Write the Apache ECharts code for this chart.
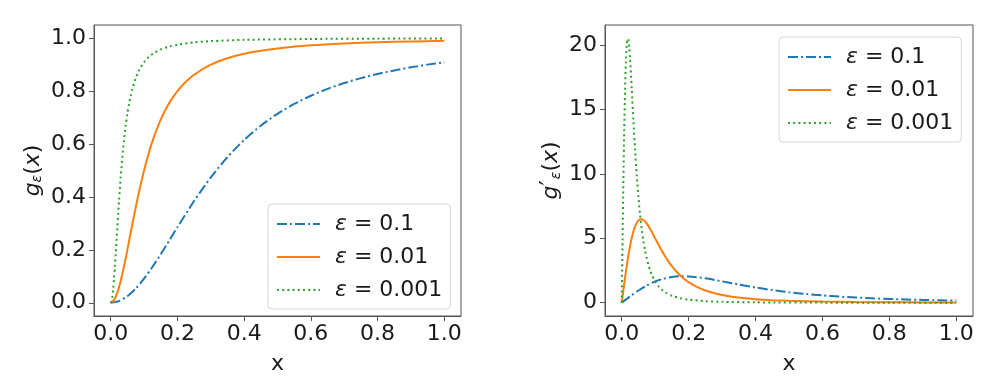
<!DOCTYPE html>
<html>
<head>
<meta charset="utf-8">
<script src="https://cdn.jsdelivr.net/npm/echarts@6/dist/echarts.min.js"></script>
<style>
html,body{margin:0;padding:0;background:#fff;}
#chart{width:1002px;height:380px;}
</style>
</head>
<body>
<div id="chart"></div>
<script>
// ---- data ----
const seriesNames = ['ε = 0.1', 'ε = 0.01', 'ε = 0.001'];
const xTicks = [0, 0.2, 0.4, 0.6, 0.8, 1.0];
const yTicksLeft = [0, 0.2, 0.4, 0.6, 0.8, 1.0];
const yTicksRight = [0, 5, 10, 15, 20];

// eps = 0.1
const xA = [0, .025, .05, .075, .1, .125, .15, .175, .2, .25, .3, .35, .4, .45, .5, .55, .6, .65, .7, .75, .8, .85, .9, .95, 1];
const gA = [0, .0062, .0244, .0533, .0909, .1351, .1837, .2344, .2857, .3846, .4737, .5506, .6154, .6694, .7143, .7516, .7826, .8086, .8305, .8491, .8649, .8784, .8901, .9002, .9091];
const dA = [0, .494, .952, 1.345, 1.653, 1.870, 1.999, 2.051, 2.041, 1.893, 1.662, 1.414, 1.183, .984, .816, .679, .567, .476, .402, .342, .292, .251, .217, .189, .165];

// eps = 0.01
const xB = [0, .01, .02, .03, .04, .05, .06, .07, .08, .09, .1, .11, .12, .13, .14, .15, .16, .17, .18, .19, .2, .22, .25, .3, .35, .4, .45, .5, .6, .7, .8, .9, 1];
const gB = [0, .0099, .0385, .0826, .1379, .2, .2647, .3289, .3902, .4475, .5, .5475, .5902, .6283, .6622, .6923, .7191, .7429, .7642, .7831, .8, .8288, .8621, .9, .9245, .9412, .9529, .9615, .973, .98, .9846, .9878, .9901];
const dB = [0, 1.961, 3.698, 5.050, 5.945, 6.4, 6.488, 6.306, 5.949, 5.494, 5.0, 4.504, 4.031, 3.593, 3.196, 2.840, 2.525, 2.247, 2.002, 1.788, 1.6, 1.290, .951, .6, .399, .277, .199, .148, .088, .056, .038, .027, .020];

// eps = 0.001
const xC = [0, .0025, .005, .0075, .01, .0125, .015, .0175, .02, .0225, .025, .03, .035, .04, .045, .05, .055, .06, .065, .07, .075, .08, .085, .09, .1, .11, .12, .13, .15, .175, .2, .25, .3, .4, .6, .8, 1];
const gC = [0, .0062, .0244, .0533, .0909, .1351, .1837, .2344, .2857, .3361, .3846, .4737, .5506, .6154, .6694, .7143, .7516, .7826, .8086, .8305, .8491, .8649, .8784, .8901, .9091, .9237, .9351, .9441, .9574, .9684, .9756, .9843, .989, .9938, .9972, .9984, .999];
const dC = [0, 4.94, 9.52, 13.45, 16.53, 18.70, 19.99, 20.51, 20.41, 19.83, 18.93, 16.62, 14.14, 11.83, 9.84, 8.16, 6.79, 5.67, 4.76, 4.02, 3.42, 2.92, 2.51, 2.17, 1.65, 1.28, 1.01, .811, .543, .350, .238, .124, .0725, .0309, .0092, .0039, .002];

// ---- styling ----
const FONT = 'DejaVu Sans';
const TXT = '#1a1a1a';
const SPINE = '#555';
const colors = ['#1f77b4', '#ff7f0e', '#2ca02c'];
const dashes = [[10, 3, 2, 3], 'solid', [2, 3.2]];

function zip(xs, ys) { return xs.map((x, i) => [x, ys[i]]); }

function mkX(gridIndex) {
  return {
    type: 'value', gridIndex, min: -0.05, max: 1.05,
    name: 'x', nameLocation: 'middle', nameGap: 37,
    nameTextStyle: { fontFamily: FONT, fontSize: 22, color: TXT },
    axisLine: { show: true, onZero: false, lineStyle: { color: SPINE, width: 1 } },
    axisTick: { show: true, inside: false, length: 5, customValues: xTicks, lineStyle: { color: SPINE } },
    axisLabel: { customValues: xTicks, formatter: v => v.toFixed(1), fontFamily: FONT, fontSize: 22, color: TXT, margin: 7 },
    splitLine: { show: false }
  };
}
function mkY(gridIndex, min, max, ticks, fmt, nameRich, nameGap) {
  return {
    type: 'value', gridIndex, min, max,
    name: nameRich, nameLocation: 'middle', nameGap, nameRotate: 90,
    nameTextStyle: {
      fontFamily: FONT, fontSize: 22, color: TXT,
      rich: {
        i: { fontFamily: FONT, fontStyle: 'italic', fontSize: 22, color: TXT },
        s: { fontFamily: FONT, fontStyle: 'italic', fontSize: 14, color: TXT, verticalAlign: 'bottom', lineHeight: 12 },
        n: { fontFamily: FONT, fontSize: 22, color: TXT },
        p: { fontFamily: FONT, fontSize: 24, color: TXT, padding: [0, 1, 0, 0] }
      }
    },
    axisLine: { show: true, onZero: false, lineStyle: { color: SPINE, width: 1 } },
    axisTick: { show: true, inside: false, length: 5, customValues: ticks, lineStyle: { color: SPINE } },
    axisLabel: { customValues: ticks, formatter: fmt, fontFamily: FONT, fontSize: 22, color: TXT, margin: 8 },
    splitLine: { show: false }
  };
}
function mkSeries(idx, xi, yi, xs, ys) {
  return {
    type: 'line', name: seriesNames[idx], xAxisIndex: xi, yAxisIndex: yi,
    data: zip(xs, ys), symbol: 'none', smooth: 0.25,
    lineStyle: { color: colors[idx], width: 2, type: dashes[idx] },
    itemStyle: { color: colors[idx] }
  };
}
function mkLegend(left, top) {
  return {
    data: seriesNames, orient: 'vertical', left, top,
    itemWidth: 43, itemHeight: 14, itemGap: 11,
    padding: [9, 8, 8, 8],
    borderColor: '#d6d6d6', borderWidth: 1, borderRadius: 4,
    backgroundColor: 'rgba(255,255,255,0.8)',
    selectedMode: false,
    itemStyle: { opacity: 0, borderWidth: 0 },
    formatter: n => '{e|ε} = ' + n.split('= ')[1],
    textStyle: {
      fontFamily: FONT, fontSize: 22, color: TXT, padding: [0, 0, 0, 10],
      rich: { e: { fontFamily: FONT, fontStyle: 'italic', fontSize: 22, color: TXT } }
    }
  };
}

const chart = echarts.init(document.getElementById('chart'), null, { renderer: 'canvas' });
chart.setOption({
  animation: false,
  backgroundColor: '#fff',
  grid: [
    { left: 94, top: 25, width: 367, height: 295, show: true, borderColor: SPINE, borderWidth: 1, backgroundColor: 'transparent' },
    { left: 605, top: 25, width: 368, height: 295, show: true, borderColor: SPINE, borderWidth: 1, backgroundColor: 'transparent' }
  ],
  xAxis: [mkX(0), mkX(1)],
  yAxis: [
    mkY(0, -0.05, 1.05, yTicksLeft, v => v.toFixed(1), '{i|g}{s|ε}{n|(}{i|x}{n|)}', 50),
    mkY(1, -1.03, 21.57, yTicksRight, v => String(v), '{i|g}{p|′}{s|ε}{n|(}{i|x}{n|)}', 42)
  ],
  legend: [mkLegend(268, 204), mkLegend(779, 37)],
  series: [
    mkSeries(0, 0, 0, xA, gA),
    mkSeries(1, 0, 0, xB, gB),
    mkSeries(2, 0, 0, xC, gC),
    mkSeries(0, 1, 1, xA, dA),
    mkSeries(1, 1, 1, xB, dB),
    mkSeries(2, 1, 1, xC, dC)
  ]
});
</script>
</body>
</html>
